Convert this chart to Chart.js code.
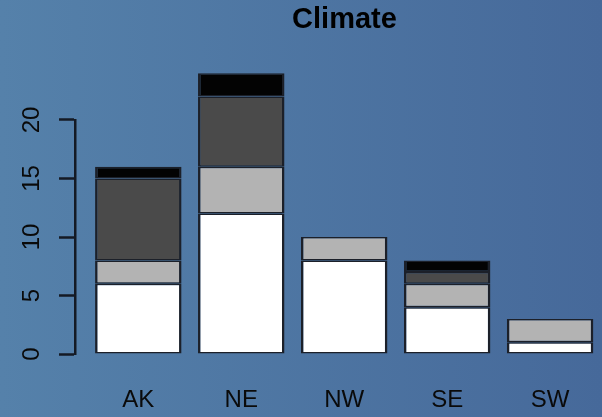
<!DOCTYPE html>
<html>
<head>
<meta charset="utf-8">
<title>Climate</title>
<script src="https://cdn.jsdelivr.net/npm/chart.js@4/dist/chart.umd.min.js"></script>
<style>
  html, body { margin: 0; padding: 0; background: #4e76a2; }
  #chart { display: block; }
</style>
</head>
<body>
<canvas id="chart" width="602" height="417"></canvas>
<script>
// Regions along the x axis
const categories = ['AK', 'NE', 'NW', 'SE', 'SW'];

// Stacked counts per region, bottom layer first
const layer1 = [6, 12, 8, 4, 1];
const layer2 = [2, 4, 2, 2, 2];
const layer3 = [7, 6, 0, 1, 0];
const layer4 = [1, 2, 0, 1, 0];

const seriesNames = ['Layer 1', 'Layer 2', 'Layer 3', 'Layer 4'];
const seriesValues = [layer1, layer2, layer3, layer4];
const seriesColors = ['#ffffff', '#b3b3b3', '#4a4a4a', '#030303'];

// Value axis ticks
const yTicks = [0, 5, 10, 15, 20];

const FONT = "'Liberation Sans', Arial, Helvetica, sans-serif";
const INK = '#141a24';

// Blue backdrop, lighter on the left
const backdrop = {
  id: 'backdrop',
  beforeDraw(chart) {
    const { ctx, width, height } = chart;
    const g = ctx.createLinearGradient(0, 0, width, 0);
    g.addColorStop(0, '#5581aa');
    g.addColorStop(1, '#46699a');
    ctx.save();
    ctx.fillStyle = g;
    ctx.fillRect(0, 0, width, height);
    ctx.restore();
  }
};

// Centre the title over the plotting region rather than the axis box
const titleShift = {
  id: 'titleShift',
  afterLayout(chart) {
    const t = chart.titleBlock;
    if (t) { t.left += 6; t.right += 6; }
  }
};

const datasets = seriesValues.map((vals, k) => ({
  label: seriesNames[k],
  data: vals.map((v, i) => ({ x: i, y: v })),
  backgroundColor: seriesColors[k],
  borderColor: '#1c2029',
  borderWidth: { left: 2.5, right: 2.5, top: 1.5, bottom: 1.5 },
  borderSkipped: false,
  stack: 'regions',
  clip: false,
  categoryPercentage: 1,
  barPercentage: 0.84
}));

new Chart(document.getElementById('chart'), {
  type: 'bar',
  data: { datasets },
  plugins: [backdrop, titleShift],
  options: {
    responsive: false,
    animation: false,
    events: [],
    layout: { padding: 0 },
    plugins: {
      legend: { display: false },
      tooltip: { enabled: false },
      title: {
        display: true,
        text: 'Climate',
        fullSize: false,
        color: '#000000',
        font: { family: FONT, size: 29, weight: 'bold', lineHeight: 1.2 },
        padding: { top: 2.6, bottom: 82.6 }
      }
    },
    scales: {
      x: {
        type: 'linear',
        offset: false,
        min: -0.615,
        max: 4.504,
        afterBuildTicks(axis) {
          axis.ticks = categories.map((_, i) => ({ value: i }));
        },
        afterFit(axis) { axis.height = 63; },
        grid: { display: false, drawTicks: false, offset: false },
        border: { display: false },
        ticks: {
          autoSkip: false,
          maxRotation: 0,
          padding: 32.4,
          color: '#0a0a0a',
          font: { family: FONT, size: 24, lineHeight: 1.2 },
          callback: (value) => categories[value] ?? ''
        }
      },
      y: {
        type: 'linear',
        stacked: true,
        min: 0,
        max: 20,
        afterBuildTicks(axis) {
          axis.ticks = yTicks.map(v => ({ value: v }));
        },
        afterFit(axis) { axis.width = 75; },
        grid: {
          display: true,
          drawOnChartArea: false,
          drawTicks: true,
          tickLength: 16,
          tickWidth: 2.5,
          tickColor: INK
        },
        border: { display: true, color: INK, width: 2.5 },
        ticks: {
          minRotation: 90,
          maxRotation: 90,
          crossAlign: 'center',
          padding: 13.2,
          color: '#0a0a0a',
          font: { family: FONT, size: 24, lineHeight: 1.2 }
        }
      }
    }
  }
});
</script>
</body>
</html>
